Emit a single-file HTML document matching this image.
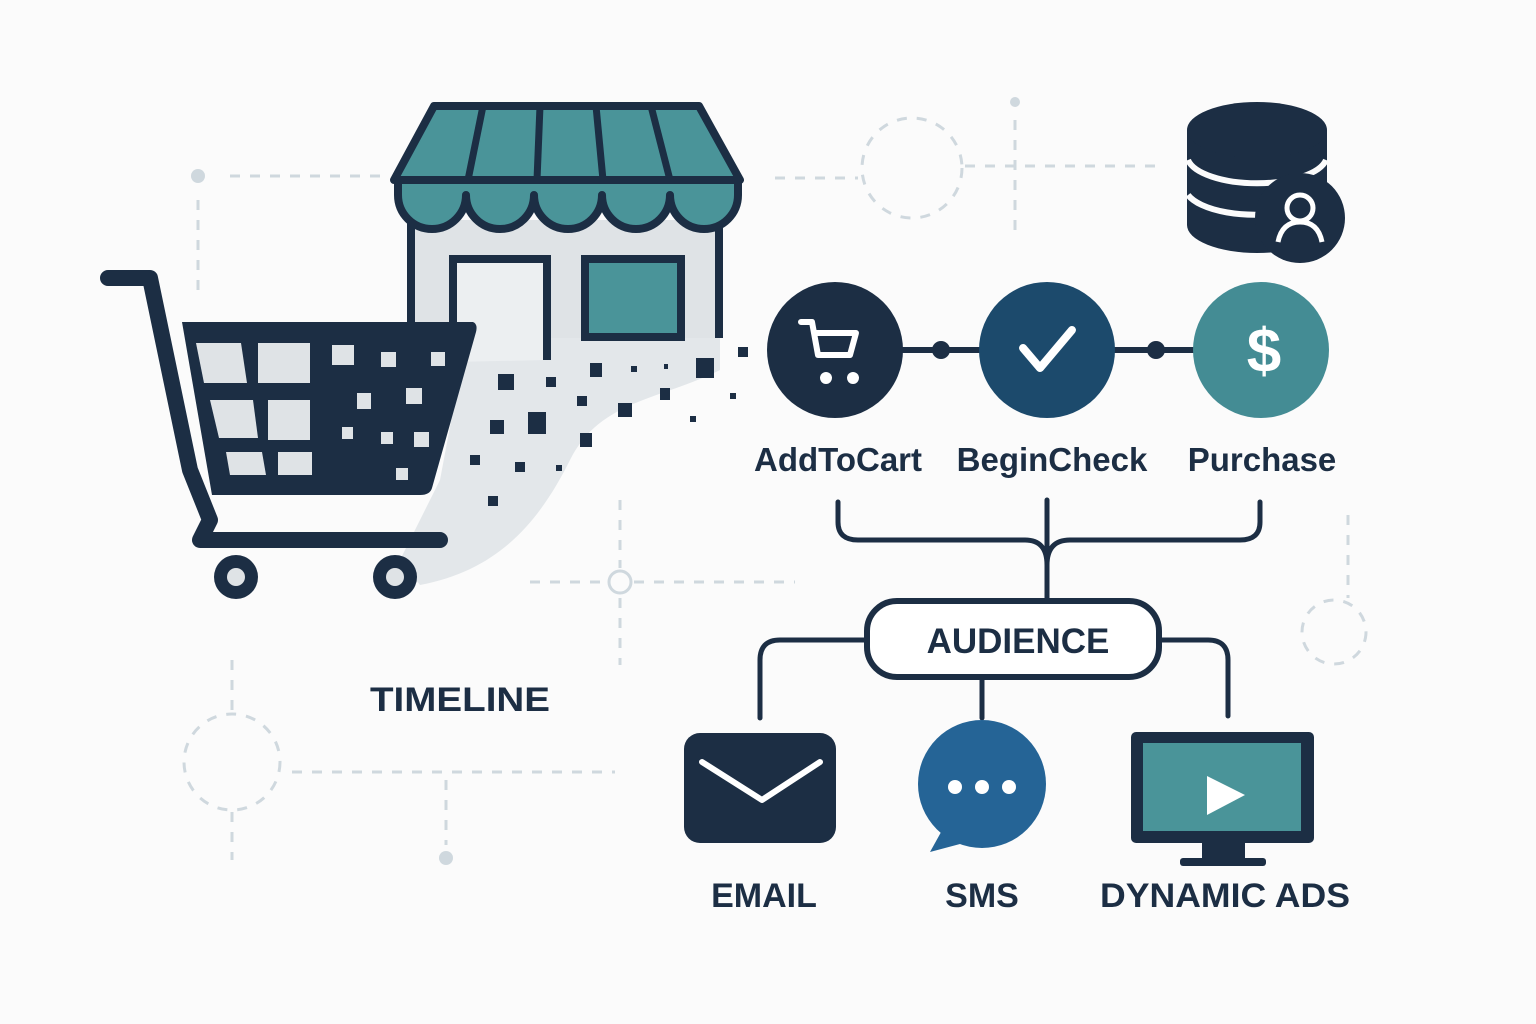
<!DOCTYPE html>
<html><head><meta charset="utf-8"><style>
html,body{margin:0;padding:0;background:#fbfbfb}
svg{display:block}
text{font-family:"Liberation Sans",sans-serif;fill:#1c2e44;font-weight:bold}
</style></head><body>
<svg width="1536" height="1024" viewBox="0 0 1536 1024" xmlns="http://www.w3.org/2000/svg">
<rect width="1536" height="1024" fill="#fbfbfb"/>
<g stroke="#cfd8de" stroke-width="3" fill="none" stroke-dasharray="10 10">
<line x1="230" y1="176" x2="380" y2="176"/>
<line x1="198" y1="200" x2="198" y2="300"/>
<circle cx="912" cy="168" r="50"/>
<line x1="775" y1="178" x2="858" y2="178"/>
<line x1="965" y1="166" x2="1160" y2="166"/>
<line x1="1015" y1="120" x2="1015" y2="240"/>
<line x1="530" y1="582" x2="606" y2="582"/>
<line x1="634" y1="582" x2="795" y2="582"/>
<line x1="620" y1="500" x2="620" y2="568"/>
<line x1="620" y1="598" x2="620" y2="665"/>
<line x1="1348" y1="515" x2="1348" y2="598"/>
<circle cx="1334" cy="632" r="32"/>
<circle cx="232" cy="762" r="48"/>
<line x1="292" y1="772" x2="615" y2="772"/>
<line x1="446" y1="780" x2="446" y2="845"/>
<line x1="232" y1="660" x2="232" y2="712"/>
<line x1="232" y1="812" x2="232" y2="860"/>
</g>
<g fill="#cfd8de"><circle cx="198" cy="176" r="7"/><circle cx="1015" cy="102" r="5"/><circle cx="446" cy="858" r="7"/></g>
<circle cx="620" cy="582" r="11" fill="none" stroke="#cfd8de" stroke-width="3"/>

<path d="M470 320 L720 320 L720 370 C660 400 600 400 570 460 C540 520 500 570 420 585 L400 560 L440 480 Z" fill="#e3e7ea"/>

<rect x="411" y="220" width="308" height="118" fill="#dfe3e6"/>
<line x1="411" y1="220" x2="411" y2="338" stroke="#1c2e44" stroke-width="8"/>
<line x1="719" y1="220" x2="719" y2="338" stroke="#1c2e44" stroke-width="8"/>
<path d="M453 362 L453 259 L547 259 L547 360" fill="#eceff1" stroke="#1c2e44" stroke-width="8"/>
<rect x="585" y="259" width="96" height="78" fill="#4a9499" stroke="#1c2e44" stroke-width="8"/>
<path d="M434 106 L699 106 L740 180 L394 180 Z" fill="#4a9499" stroke="#1c2e44" stroke-width="8" stroke-linejoin="round"/>
<g stroke="#1c2e44" stroke-width="7"><line x1="483" y1="106" x2="468" y2="180"/><line x1="540" y1="106" x2="537" y2="180"/><line x1="596" y1="106" x2="603" y2="180"/><line x1="651" y1="106" x2="670" y2="180"/></g>
<path d="M398 180 L398 195 A34 34 0 0 0 466 195 A34 34 0 0 0 534 195 A34 34 0 0 0 602 195 A34 34 0 0 0 670 195 A34 34 0 0 0 738 195 L738 180 Z" fill="#4a9499" stroke="#1c2e44" stroke-width="8" stroke-linejoin="round"/>

<path d="M108 278 L150 278 L190 470 L210 520 L200 540 L440 540" fill="none" stroke="#1c2e44" stroke-width="16" stroke-linecap="round" stroke-linejoin="round"/>
<path d="M182 322 L473 322 Q478 324 476 332 L432 488 Q430 495 420 495 L212 495 Z" fill="#1c2e44"/>
<g fill="#dfe3e6">
<path d="M196 343 L241 343 L247 383 L204 383 Z"/><rect x="258" y="343" width="52" height="40"/>
<path d="M210 400 L253 400 L258 438 L219 438 Z"/><rect x="268" y="400" width="42" height="40"/>
<path d="M226 452 L262 452 L266 475 L230 475 Z"/><rect x="278" y="452" width="34" height="23"/>
<rect x="332" y="345" width="22" height="20"/><rect x="381" y="352" width="15" height="15"/><rect x="431" y="352" width="14" height="14"/>
<rect x="357" y="393" width="14" height="16"/><rect x="406" y="388" width="16" height="16"/>
<rect x="342" y="427" width="11" height="12"/><rect x="381" y="432" width="12" height="12"/><rect x="414" y="432" width="15" height="15"/>
<rect x="396" y="468" width="12" height="12"/>
</g>
<circle cx="236" cy="577" r="22" fill="#1c2e44"/><circle cx="236" cy="577" r="9" fill="#dfe3e6"/>
<circle cx="395" cy="577" r="22" fill="#1c2e44"/><circle cx="395" cy="577" r="9" fill="#dfe3e6"/>
<g fill="#1c2e44">
<rect x="498" y="374" width="16" height="16"/><rect x="546" y="377" width="10" height="10"/><rect x="590" y="363" width="12" height="14"/><rect x="631" y="366" width="6" height="6"/><rect x="664" y="364" width="4" height="5"/><rect x="696" y="358" width="18" height="20"/><rect x="738" y="347" width="10" height="10"/>
<rect x="490" y="420" width="14" height="14"/><rect x="528" y="412" width="18" height="22"/><rect x="577" y="396" width="10" height="10"/><rect x="618" y="403" width="14" height="14"/><rect x="660" y="388" width="10" height="12"/><rect x="730" y="393" width="6" height="6"/><rect x="690" y="416" width="6" height="6"/>
<rect x="580" y="433" width="12" height="14"/><rect x="470" y="455" width="10" height="10"/><rect x="515" y="462" width="10" height="10"/><rect x="556" y="465" width="6" height="6"/><rect x="488" y="496" width="10" height="10"/>
</g>

<path d="M1187 130 L1187 225 A70 28 0 0 0 1327 225 L1327 130 Z" fill="#1c2e44"/>
<ellipse cx="1257" cy="130" rx="70" ry="28" fill="#1c2e44"/>
<path d="M1188 160 A70 28 0 0 0 1326 160" fill="none" stroke="#fbfbfb" stroke-width="6"/>
<path d="M1188 195 A70 28 0 0 0 1285 212" fill="none" stroke="#fbfbfb" stroke-width="6"/>
<circle cx="1300" cy="218" r="45" fill="#1c2e44"/>
<circle cx="1300" cy="208" r="13" fill="none" stroke="#fff" stroke-width="5"/>
<path d="M1278 242 Q1282 222 1300 222 Q1318 222 1322 242" fill="none" stroke="#fff" stroke-width="5"/>

<line x1="835" y1="350" x2="1261" y2="350" stroke="#1c2e44" stroke-width="6"/>
<circle cx="941" cy="350" r="9" fill="#1c2e44"/><circle cx="1156" cy="350" r="9" fill="#1c2e44"/>
<circle cx="835" cy="350" r="68" fill="#1c2e44"/>
<circle cx="1047" cy="350" r="68" fill="#1c4a6c"/>
<circle cx="1261" cy="350" r="68" fill="#448c94"/>
<path d="M801 322 L812 322 L818 355 L850 355 L856 333 L815 333" fill="none" stroke="#fff" stroke-width="6" stroke-linejoin="round" stroke-linecap="round"/>
<circle cx="826" cy="378" r="6" fill="#fff"/><circle cx="853" cy="378" r="6" fill="#fff"/>
<path d="M1023 348 L1040 368 L1072 330" fill="none" stroke="#fff" stroke-width="8" stroke-linecap="round" stroke-linejoin="round"/>
<text x="1264" y="372" font-size="62" text-anchor="middle" style="fill:#fff">$</text>
<g font-size="33" text-anchor="middle">
<text x="838" y="471">AddToCart</text><text x="1052" y="471">BeginCheck</text><text x="1262" y="471">Purchase</text>
</g>

<g fill="none" stroke="#1c2e44" stroke-width="5" stroke-linecap="round">
<path d="M838 502 L838 522 Q838 540 858 540 L1025 540 Q1047 540 1047 565"/>
<path d="M1260 502 L1260 522 Q1260 540 1240 540 L1070 540 Q1047 540 1047 565"/>
<line x1="1047" y1="500" x2="1047" y2="602"/>
<path d="M868 640 L780 640 Q760 640 760 660 L760 718"/>
<path d="M1158 640 L1208 640 Q1228 640 1228 660 L1228 716"/>
<line x1="982" y1="678" x2="982" y2="718"/>
</g>
<rect x="867" y="601" width="292" height="76" rx="30" fill="#fff" stroke="#1c2e44" stroke-width="6"/>
<text x="1018" y="653" font-size="35" text-anchor="middle">AUDIENCE</text>

<rect x="684" y="733" width="152" height="110" rx="16" fill="#1c2e44"/>
<path d="M702 762 L762 800 L820 762" fill="none" stroke="#fff" stroke-width="6" stroke-linecap="round" stroke-linejoin="round"/>
<circle cx="982" cy="784" r="64" fill="#256496"/>
<path d="M945 825 L930 852 L975 840 Z" fill="#256496"/>
<circle cx="955" cy="787" r="7" fill="#fff"/><circle cx="982" cy="787" r="7" fill="#fff"/><circle cx="1009" cy="787" r="7" fill="#fff"/>
<rect x="1131" y="732" width="183" height="111" rx="5" fill="#1c2e44"/>
<rect x="1143" y="743" width="158" height="88" fill="#4a9499"/>
<path d="M1207 776 L1207 815 L1245 795 Z" fill="#fff"/>
<rect x="1202" y="842" width="43" height="18" fill="#1c2e44"/>
<rect x="1180" y="858" width="86" height="8" rx="3" fill="#1c2e44"/>
<g font-size="34" text-anchor="middle">
<text x="764" y="907">EMAIL</text><text x="982" y="907">SMS</text><text x="1225" y="907" textLength="250" lengthAdjust="spacingAndGlyphs">DYNAMIC ADS</text>
<text x="460" y="711" textLength="180" lengthAdjust="spacingAndGlyphs">TIMELINE</text>
</g>
</svg>
</body></html>
